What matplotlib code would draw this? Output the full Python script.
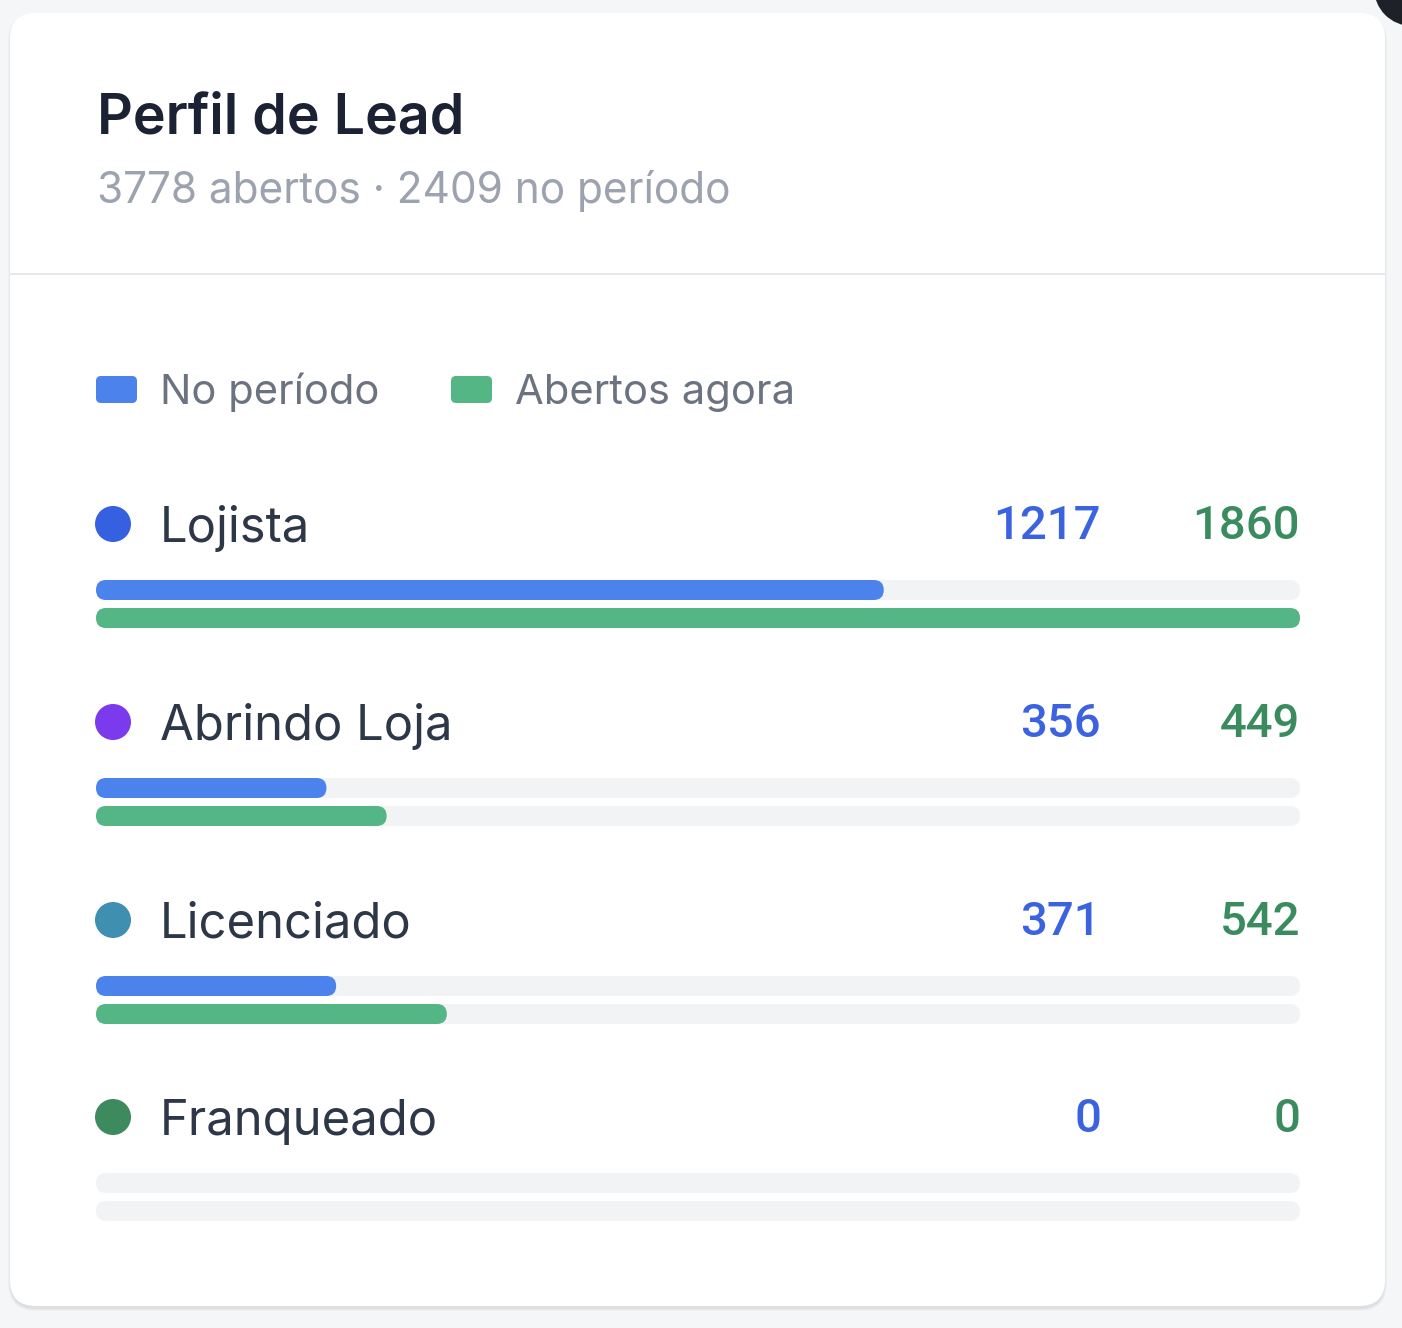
import matplotlib.pyplot as plt
from matplotlib.patches import FancyBboxPatch, Circle

# data
categories = ["Lojista", "Abrindo Loja", "Licenciado", "Franqueado"]
no_periodo = [1217, 356, 371, 0]
abertos_agora = [1860, 449, 542, 0]
dot_colors = ["#3560e0", "#7c3aed", "#3f8fb1", "#3e8a5f"]
legend_labels = ["No período", "Abertos agora"]
total_abertos = 3778
total_periodo = 2409

BLUE = "#4c82ec"
GREEN = "#54b585"
TRACK = "#f2f3f5"

plt.rcParams["font.family"] = ["Inter", "DejaVu Sans"]

W, H = 1402, 1328
fig = plt.figure(figsize=(W / 100, H / 100), dpi=100)
fig.patch.set_facecolor("#f5f6f8")
ax = fig.add_axes([0, 0, 1, 1])
ax.set_xlim(0, W)
ax.set_ylim(H, 0)
ax.axis("off")


def rbox(x, y, w, h, r, color, z=2, **kw):
    ax.add_patch(FancyBboxPatch((x, y), w, h,
                                boxstyle=f"round,pad=0,rounding_size={r}",
                                fc=color, ec="none", zorder=z, **kw))


# card with soft shadow
for i, a in enumerate([0.035, 0.03, 0.025]):
    rbox(10 - i, 14 - i + 2, 1375 + 2 * i, 1293 + 2 * i, 26 + i, "#000000", z=0, alpha=a)
rbox(10, 13, 1375, 1293, 26, "white", z=1)
ax.plot([11, 1384], [274, 274], color="#e6e8ec", lw=1.5, zorder=2)

# dark button peeking in the corner
ax.add_patch(Circle((1412, -12), 38, fc="#1e2127", ec="none", zorder=3))

# header
ax.text(97, 133, "Perfil de Lead", fontsize=40, fontweight="semibold",
        color="#1b2233", va="baseline", zorder=3)
ax.text(97, 203, f"{total_abertos} abertos · {total_periodo} no período",
        fontsize=30.5, color="#9ca3af", va="baseline", zorder=3)

# legend
lx = [96, 451]
for x0, lab, col in zip(lx, legend_labels, [BLUE, GREEN]):
    rbox(x0, 376, 41, 27, 5, col, z=3)
    ax.text(x0 + 64, 404, lab, fontsize=30, color="#6b7280", va="baseline", zorder=3)

# rows
x0, x1 = 96, 1300
track_w = x1 - x0
bar_h = 20
vmax = max(abertos_agora)
row_y = [524, 722, 920, 1117]

for cat, vp, va_, dc, yc in zip(categories, no_periodo, abertos_agora, dot_colors, row_y):
    ax.add_patch(Circle((113, yc), 18, fc=dc, ec="none", zorder=3))
    ax.text(160, yc + 18, cat, fontsize=35.3, color="#2d3748", va="baseline", zorder=3)
    ax.text(1101, yc + 15, str(vp), fontsize=34, fontweight="medium",
            family=["Roboto", "Inter"],
            color="#3b63e0", ha="right", va="baseline", zorder=3)
    ax.text(1300, yc + 15, str(va_), fontsize=34, fontweight="medium",
            family=["Roboto", "Inter"],
            color="#3a8c5e", ha="right", va="baseline", zorder=3)
    for k, (v, col) in enumerate([(vp, BLUE), (va_, GREEN)]):
        by = yc + 56 + k * 28
        rbox(x0, by, track_w, bar_h, bar_h / 2, TRACK, z=2)
        w = track_w * v / vmax
        if w > 0:
            rbox(x0, by, w, bar_h, min(bar_h / 2, w / 2), col, z=3)

fig.savefig("out.png", dpi=100, facecolor=fig.get_facecolor())
